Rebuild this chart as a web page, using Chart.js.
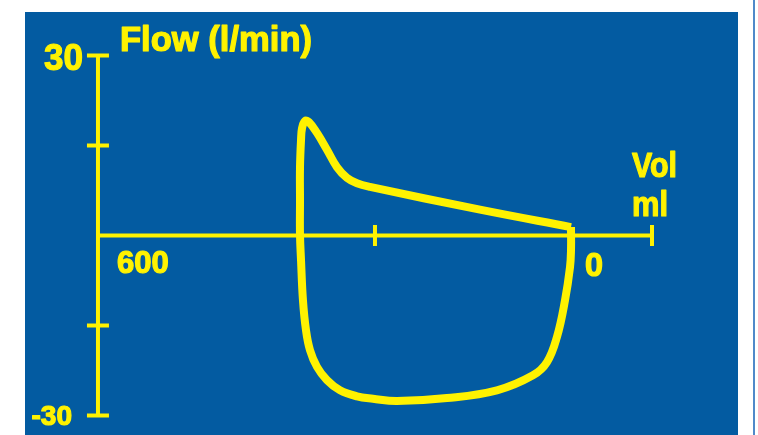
<!DOCTYPE html>
<html>
<head>
<meta charset="utf-8">
<script src="https://cdn.jsdelivr.net/npm/chart.js@4.4.1/dist/chart.umd.min.js"></script>
<style>
  html, body { margin: 0; padding: 0; background: #ffffff; }
  canvas { display: block; }
</style>
</head>
<body>
<canvas id="loop" width="758" height="435"></canvas>
<script>
// flow-volume loop (volume in ml, flow in l/min)
const loopVolume = [87.7, 87.7, 88.8, 94.2, 102.9, 113.7, 128.9, 167.9, 222.0, 276.2,
  302.2, 319.5, 337.9, 352.0, 362.8, 370.4, 374.7, 378.0, 380.1, 381.2,
  381.2, 381.2, 380.1, 379.0, 375.8, 371.5, 362.8, 352.0, 341.2, 330.3,
  319.5, 305.4, 186.3, 87.7];
const loopFlow = [1.4, -2.4, -5.3, -10.8, -16.9, -21.1, -23.3, -25.8, -27.1, -27.6,
  -27.2, -26.8, -25.8, -24.1, -21.9, -19.1, -15.8, -10.8, -4.1, 0.1,
  5.9, 11.4, 15.9, 17.9, 19.1, 18.9, 17.1, 14.3, 11.4, 9.6,
  8.7, 8.1, 4.3, 1.4];

const flowTicks = [30, 15, -15, -30];
const volTicks = [300, 0];
const volStart = 600;
const flowLabels = ['30', '-30'];
const volLabels = ['600', '0'];
const titleY = 'Flow (l/min)';
const titleX = ['Vol', 'ml'];

const YELLOW = '#fff200';
const BLUE = '#035ba1';

const points = loopVolume.map((v, i) => ({ x: v, y: loopFlow[i] }));

// blue panel and the thin rule on the right
const panelPlugin = {
    id: 'panel',
    beforeDraw(chart) {
        const ctx = chart.ctx;
        ctx.save();
        ctx.fillStyle = '#ffffff';
        ctx.fillRect(0, 0, chart.width, chart.height);
        ctx.fillStyle = BLUE;
        ctx.fillRect(25, 12, 713, 423);
        ctx.fillStyle = '#5089c9';
        ctx.fillRect(753, 0, 2, chart.height);
        ctx.restore();
    }
};

// heavy yellow label: fill plus a thin stroke to thicken the strokes
function label(ctx, text, x, y, size, maxW) {
    ctx.font = 'bold ' + size + 'px "Liberation Sans", Arial, sans-serif';
    ctx.fillText(text, x, y, maxW);
    ctx.strokeText(text, x, y, maxW);
}

// axes with their tick bars, drawn through the scales
const axesPlugin = {
    id: 'axes',
    beforeDatasetsDraw(chart) {
        const ctx = chart.ctx;
        const xs = chart.scales.x;
        const ys = chart.scales.y;
        const x0 = xs.getPixelForValue(volStart);
        const y0 = ys.getPixelForValue(0);
        ctx.save();
        ctx.strokeStyle = YELLOW;
        ctx.lineWidth = 4;
        ctx.lineCap = 'butt';
        ctx.beginPath();
        ctx.moveTo(x0, ys.getPixelForValue(30));
        ctx.lineTo(x0, ys.getPixelForValue(-30));
        ctx.moveTo(x0, y0);
        ctx.lineTo(xs.getPixelForValue(0), y0);
        flowTicks.forEach(f => {
            const y = ys.getPixelForValue(f);
            ctx.moveTo(x0 - 11, y);
            ctx.lineTo(x0 + 11, y);
        });
        volTicks.forEach(v => {
            const x = xs.getPixelForValue(v);
            ctx.moveTo(x, y0 - 10.5);
            ctx.lineTo(x, y0 + 10.5);
        });
        ctx.stroke();

        ctx.fillStyle = YELLOW;
        ctx.lineWidth = 1.2;
        ctx.lineJoin = 'round';
        ctx.textBaseline = 'alphabetic';

        ctx.textAlign = 'left';
        label(ctx, titleY, 120, 51, 35, 192);

        ctx.textAlign = 'right';
        label(ctx, flowLabels[0], 83, 70, 37, 39);
        label(ctx, flowLabels[1], 72, 425, 28, 41);

        ctx.textAlign = 'left';
        label(ctx, volLabels[0], 117, 273, 31, 55);
        label(ctx, volLabels[1], 585, 276, 33, 18);
        label(ctx, titleX[0], 632, 177, 35, 45);
        label(ctx, titleX[1], 632, 216, 35, 36);
        ctx.restore();
    }
};

new Chart(document.getElementById('loop'), {
    type: 'scatter',
    data: {
        datasets: [{
            data: points,
            showLine: true,
            borderColor: YELLOW,
            borderWidth: 8,
            borderCapStyle: 'butt',
            borderJoinStyle: 'round',
            tension: 0.4,
            pointRadius: 0,
            fill: false
        }]
    },
    options: {
        responsive: false,
        animation: false,
        devicePixelRatio: 1,
        layout: { padding: 0 },
        plugins: {
            legend: { display: false },
            tooltip: { enabled: false }
        },
        scales: {
            x: { type: 'linear', reverse: true, min: -114.8, max: 706.1, display: false },
            y: { type: 'linear', min: -33.25, max: 39.25, display: false }
        }
    },
    plugins: [panelPlugin, axesPlugin]
});
</script>
</body>
</html>
